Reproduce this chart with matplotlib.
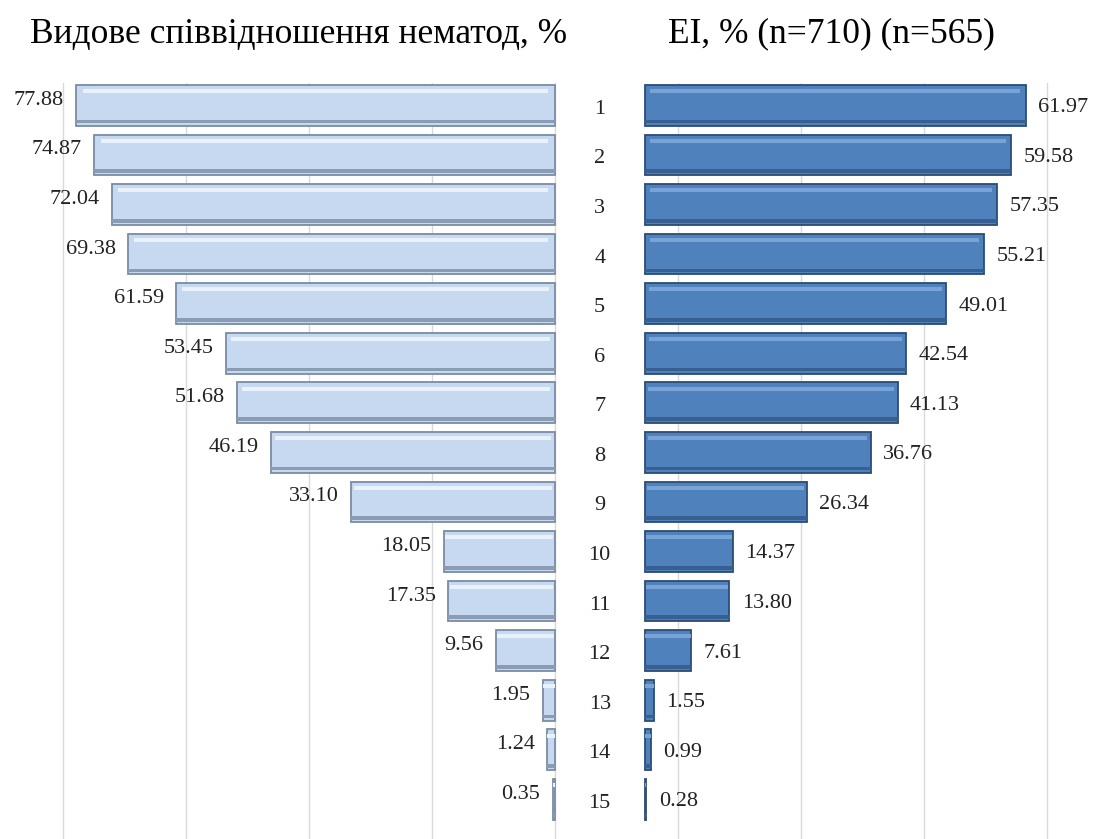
import numpy as np
import matplotlib
matplotlib.use("Agg")
import matplotlib.pyplot as plt

# ---------- DATA ----------
ranks = list(range(1, 16))
species_pct = [77.88, 74.87, 72.04, 69.38, 61.59, 53.45, 51.68, 46.19,
               33.10, 18.05, 17.35, 9.56, 1.95, 1.24, 0.35]
ei_pct = [61.97, 59.58, 57.35, 55.21, 49.01, 42.54, 41.13, 36.76,
          26.34, 14.37, 13.80, 7.61, 1.55, 0.99, 0.28]

title_left = "Видове співвідношення нематод, %"
title_right = "EI, % (n=710) (n=565)"

# ---------- LAYOUT ----------
plt.rcParams['font.family'] = ['Liberation Serif', 'DejaVu Serif']
fig = plt.figure(figsize=(11.01, 8.39), dpi=100)
ax = fig.add_axes([0, 0, 1, 0.901])

gap = 14.6          # space between the two bar groups (data units)
h = 0.82            # bar thickness
y = np.array(ranks)
left = np.array(species_pct)
right = np.array(ei_pct)


def bevel_bars(ax, y, start, width, face, edge, light, dark):
    # main body
    ax.barh(y, width, left=start, height=h, color=face, edgecolor=edge,
            linewidth=1.3, zorder=3)
    # top highlight and bottom shadow strips
    ax.barh(y - h * 0.35, width * 0.97, left=start + width * 0.015,
            height=h * 0.10, color=light, linewidth=0, zorder=4)
    ax.barh(y + h * 0.40, width, left=start, height=h * 0.09,
            color=dark, linewidth=0, zorder=4)


bevel_bars(ax, y, 0, -left, '#c6d9f1', '#7a8ca3', '#e9f1fb', '#8a9cb3')
bevel_bars(ax, y, gap, right, '#4f81bd', '#2b4c74', '#78a3d7', '#375f90')

# value labels
for yi, v in zip(y, left):
    ax.text(-v - 2.0, yi - 0.1, f"{v:.2f}", ha='right', va='center',
            fontsize=16, color='#222222')
for yi, v in zip(y, right):
    ax.text(gap + v + 2.0, yi + 0.05, f"{v:.2f}", ha='left', va='center',
            fontsize=16, color='#222222')
for yi, r in zip(y, ranks):
    ax.text(gap / 2, yi + 0.08, str(r), ha='center', va='center',
            fontsize=16, color='#222222')

ax.set_xlim(-90.2, 88.8)
ax.set_ylim(15.8, 0.55)
ax.set_xticks(np.arange(-80, 81, 20))
ax.set_yticks([])
ax.tick_params(length=0, labelbottom=False)
ax.grid(axis='x', color='#d9d9d9', linewidth=1, zorder=0)
ax.set_axisbelow(True)
for s in ax.spines.values():
    s.set_visible(False)

# titles
fig.text(30 / 1101, 1 - 34 / 839, title_left, ha='left', va='center',
         fontsize=25.5)
fig.text(668 / 1101, 1 - 34 / 839, title_right, ha='left', va='center',
         fontsize=25.5)

fig.savefig("out.png", dpi=100)
